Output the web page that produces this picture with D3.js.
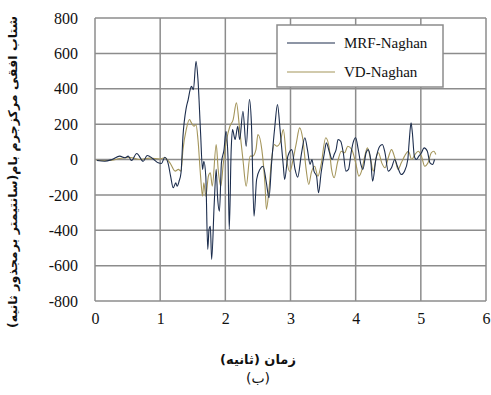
<!DOCTYPE html>
<html>
<head>
<meta charset="utf-8">
<script src="https://cdn.jsdelivr.net/npm/d3@7"></script>
<style>
  body { margin: 0; background: #fff; }
  svg { display: block; }
</style>
</head>
<body>
<div id="chart"></div>
<script>
// values (time in s, acceleration)
const mrfTime = [0.03,0.15,0.26,0.38,0.46,0.51,0.56,0.64,0.74,0.80,0.89,0.97,1.02,1.07,1.12,1.16,1.20,1.24,1.26,1.29,1.32,1.35,1.40,1.43,1.46,1.48,1.51,1.55,1.58,1.62,1.65,1.67,1.70,1.73,1.75,1.77,1.79,1.83,1.86,1.88,1.91,1.94,1.98,2.01,2.04,2.06,2.09,2.11,2.15,2.19,2.22,2.27,2.32,2.37,2.40,2.44,2.48,2.53,2.58,2.63,2.67,2.71,2.76,2.80,2.84,2.89,2.91,2.96,3.02,3.07,3.11,3.17,3.22,3.26,3.30,3.33,3.36,3.40,3.43,3.47,3.52,3.55,3.60,3.64,3.67,3.70,3.73,3.77,3.81,3.85,3.89,3.93,3.96,4.00,4.04,4.08,4.11,4.16,4.19,4.23,4.26,4.31,4.37,4.41,4.45,4.50,4.55,4.60,4.64,4.70,4.75,4.80,4.82,4.85,4.87,4.90,4.93,4.97,5.01,5.05,5.10,5.14,5.18,5.21];
const mrfValue = [-6,-10,0,19,10,19,-6,34,-10,23,4,-19,-23,13,-19,-94,-160,-132,-151,-123,-75,132,292,339,395,414,395,555,452,151,-56,-10,-94,-508,-395,-377,-565,-245,-56,-207,-292,-19,56,160,19,-395,56,169,113,188,113,273,75,339,207,-320,-113,-56,-38,-132,-216,-19,188,311,169,-38,-113,19,56,-56,-100,38,123,56,-28,0,-66,-94,-188,-75,38,94,38,0,28,56,113,103,38,-66,-56,38,94,123,56,-28,-56,38,56,0,-123,0,75,85,38,-66,-47,0,-38,-85,-66,0,94,207,151,19,0,19,38,66,47,-19,-28,0];

const vdTime = [0.02,0.23,0.38,0.54,0.69,0.84,1.00,1.07,1.15,1.23,1.28,1.32,1.35,1.40,1.45,1.48,1.52,1.55,1.58,1.62,1.65,1.67,1.70,1.74,1.77,1.80,1.86,1.89,1.93,1.97,2.02,2.07,2.12,2.17,2.22,2.27,2.32,2.38,2.42,2.47,2.50,2.56,2.61,2.63,2.67,2.71,2.75,2.79,2.84,2.89,2.94,2.99,3.04,3.09,3.14,3.19,3.24,3.28,3.32,3.37,3.42,3.47,3.54,3.59,3.63,3.67,3.72,3.78,3.83,3.88,3.94,4.00,4.05,4.09,4.14,4.18,4.23,4.27,4.32,4.35,4.40,4.45,4.50,4.55,4.60,4.65,4.70,4.75,4.81,4.86,4.91,4.96,5.01,5.06,5.11,5.16,5.20,5.23];
const vdValue = [-4,-6,6,11,0,8,3,10,-19,-66,-56,-66,56,169,226,207,188,198,113,-94,-207,-132,-207,-94,-75,-151,85,-56,-151,-19,113,188,226,320,169,0,-151,19,19,56,141,56,-151,-282,-169,0,85,75,94,169,0,-68,0,94,179,113,-56,-141,-73,-38,-94,-28,123,75,-56,-103,-19,47,38,75,56,-19,-94,-66,19,66,0,-66,19,38,-19,-47,10,56,10,-56,-19,19,47,0,28,47,19,-38,-19,38,47,28];

const seriesNames = ["MRF-Naghan", "VD-Naghan"];
const seriesColors = ["#1c2d4d", "#a4955a"];
const xTicks = [0, 1, 2, 3, 4, 5, 6];
const yTicks = [-800, -600, -400, -200, 0, 200, 400, 600, 800];

const W = 491, H = 395;
const margin = {left: 95, right: 5, top: 18, bottom: 94};
const gridColor = "#8c8c8c";
const serif = "Liberation Serif, Times New Roman, serif";

const svg = d3.select("#chart").append("svg")
    .attr("width", W)
    .attr("height", H);

const x = d3.scaleLinear().domain([0, 6]).range([margin.left, W - margin.right]);
const y = d3.scaleLinear().domain([-800, 800]).range([H - margin.bottom, margin.top]);

// grid
const grid = svg.append("g").attr("class", "grid");
grid.selectAll("line.v").data(xTicks).join("line")
    .attr("x1", d => x(d)).attr("x2", d => x(d))
    .attr("y1", y(800)).attr("y2", y(-800))
    .attr("stroke", gridColor).attr("stroke-width", 1.5);
grid.selectAll("line.h").data(yTicks).join("line")
    .attr("x1", x(0)).attr("x2", x(6))
    .attr("y1", d => y(d)).attr("y2", d => y(d))
    .attr("stroke", gridColor).attr("stroke-width", 1.5);

// axes (labels only)
const axisLeft = svg.append("g")
    .attr("transform", `translate(${x(0)},0)`)
    .call(d3.axisLeft(y).tickValues(yTicks).tickFormat(d => String(d)).tickSize(0).tickPadding(17));
const axisBottom = svg.append("g")
    .attr("transform", `translate(0,${y(-800)})`)
    .call(d3.axisBottom(x).tickValues(xTicks).tickFormat(d => String(d)).tickSize(0).tickPadding(12));

[axisLeft, axisBottom].forEach(axis => {
    axis.attr("font-family", serif).attr("font-size", 16);
    axis.select(".domain").remove();
    axis.selectAll("text")
        .attr("fill", "#111")
        .style("font-family", serif)
        .style("font-size", "16px");
});

// lines
const line = d3.line()
    .x(d => x(d[0]))
    .y(d => y(d[1]))
    .curve(d3.curveMonotoneX);

const series = [
    d3.zip(mrfTime, mrfValue),
    d3.zip(vdTime, vdValue)
];

svg.append("path").datum(series[1])
    .attr("d", line).attr("fill", "none")
    .attr("stroke", seriesColors[1]).attr("stroke-width", 1.1);
svg.append("path").datum(series[0])
    .attr("d", line).attr("fill", "none")
    .attr("stroke", seriesColors[0]).attr("stroke-width", 1.1);

// legend
const legend = svg.append("g").attr("class", "legend");
legend.append("rect")
    .attr("x", 277).attr("y", 25).attr("width", 166).attr("height", 62)
    .attr("fill", "#fff").attr("stroke", gridColor).attr("stroke-width", 1.5);
seriesNames.forEach((name, i) => {
    const ly = 43 + i * 29;
    legend.append("line")
        .attr("x1", 287).attr("x2", 335).attr("y1", ly).attr("y2", ly)
        .attr("stroke", seriesColors[i]).attr("stroke-width", 1.1);
    legend.append("text")
        .attr("x", 344).attr("y", ly + 5)
        .attr("fill", "#111")
        .attr("font-size", 15)
        .attr("font-family", serif)
        .text(name);
});

// titles
svg.append("text")
    .attr("transform", `translate(17,${172}) rotate(-90)`)
    .attr("text-anchor", "middle")
    .attr("direction", "rtl")
    .attr("textLength", 312)
    .attr("lengthAdjust", "spacingAndGlyphs")
    .style("font-family", "'DejaVu Sans', sans-serif")
    .style("font-weight", "bold")
    .style("font-size", "12px")
    .attr("fill", "#111")
    .text("شتاب افقی مرکزجرم بام(سانتیمتر برمجذور ثانیه)");

svg.append("text")
    .attr("x", 258).attr("y", 364)
    .attr("text-anchor", "middle")
    .attr("direction", "rtl")
    .style("font-family", "'DejaVu Sans', sans-serif")
    .style("font-weight", "bold")
    .style("font-size", "13px")
    .attr("fill", "#111")
    .text("زمان (ثانیه)");

svg.append("text")
    .attr("x", 258).attr("y", 383)
    .attr("text-anchor", "middle")
    .attr("direction", "rtl")
    .style("font-family", "'DejaVu Sans', sans-serif")
    .style("font-size", "14px")
    .attr("fill", "#111")
    .text("(ب)");
</script>
</body>
</html>
